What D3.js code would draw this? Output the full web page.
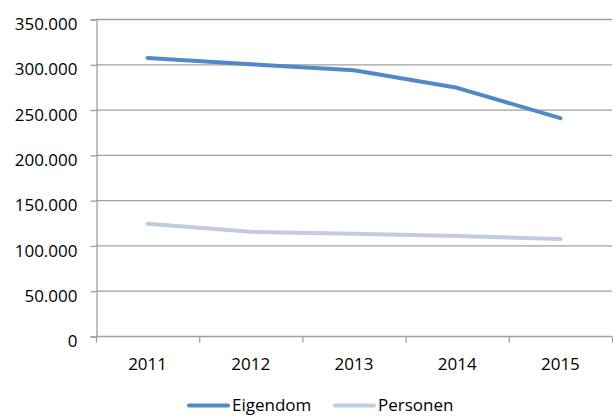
<!DOCTYPE html>
<html>
<head>
<meta charset="utf-8">
<script src="https://cdn.jsdelivr.net/npm/d3@7"></script>
<style>
  body { margin: 0; background: #fff; }
  text { font-family: "Open Sans", "Liberation Sans", sans-serif; font-size: 17px; fill: #000; }
</style>
</head>
<body>
<div class="chart"></div>
<script>
var years = ["2011", "2012", "2013", "2014", "2015"],
    eigendom = [307000, 300000, 293500, 274000, 240500],
    personen = [124000, 115000, 113000, 110500, 107000],
    seriesNames = ["Eigendom", "Personen"],
    seriesColors = ["#5189C8", "#C2CCE0"],
    yTicks = [0, 50000, 100000, 150000, 200000, 250000, 300000, 350000];

var margin = {left: 96, top: 19, right: 1, bottom: 80},
    outerWidth = 613,
    outerHeight = 416,
    width = outerWidth - margin.left - margin.right,
    height = outerHeight - margin.top - margin.bottom;

var fmt = d3.formatLocale({decimal: ",", thousands: ".", grouping: [3], currency: ["", ""]}).format(",d");

var xScale = d3.scaleBand().domain(years).range([0, width]),
    yScale = d3.scaleLinear().domain([0, 350000]).range([height, 0]);

var svg = d3.select(".chart").append("svg")
    .attr("width", outerWidth)
    .attr("height", outerHeight)
  .append("g")
    .attr("transform", "translate(" + margin.left + "," + margin.top + ")");

// gridlines
svg.append("g")
    .selectAll("line")
    .data(yTicks.slice(1))
    .enter().append("line")
    .attr("x1", 0).attr("x2", width)
    .attr("y1", function(d) { return yScale(d) + 0.5; })
    .attr("y2", function(d) { return yScale(d) + 0.5; })
    .attr("stroke", "#A0A0A0")
    .attr("stroke-width", 1.3);

// y axis
var yAxis = svg.append("g")
    .attr("transform", "translate(0.5,0.5)")
    .call(d3.axisLeft(yScale).tickValues(yTicks).tickFormat(fmt).tickSize(6).tickPadding(13));
yAxis.select(".domain").attr("stroke", "#A0A0A0").attr("stroke-width", 1.3);
yAxis.selectAll(".tick line").attr("stroke", "#A0A0A0").attr("stroke-width", 1.3);
yAxis.selectAll("text").style("font-size", "17px").attr("dy", "0.6em")
    .style("font-family", "'Open Sans', sans-serif");

// x axis
var xAxis = svg.append("g")
    .attr("transform", "translate(0," + (height + 0.5) + ")");
xAxis.append("line")
    .attr("x1", 0).attr("x2", width)
    .attr("stroke", "#A0A0A0").attr("stroke-width", 1.3);
xAxis.selectAll(".xtick")
    .data(years.concat(["end"]))
    .enter().append("line")
    .attr("x1", function(d, i) { return i * xScale.bandwidth() + 0.5; })
    .attr("x2", function(d, i) { return i * xScale.bandwidth() + 0.5; })
    .attr("y1", 0).attr("y2", 6)
    .attr("stroke", "#A0A0A0").attr("stroke-width", 1.3);
xAxis.selectAll(".xlabel")
    .data(years)
    .enter().append("text")
    .attr("x", function(d) { return xScale(d) + xScale.bandwidth() / 2; })
    .attr("y", 33)
    .attr("text-anchor", "middle")
    .text(function(d) { return d; });

// lines
var line = d3.line()
    .x(function(d, i) { return xScale(years[i]) + xScale.bandwidth() / 2; })
    .y(function(d) { return yScale(d); });

[eigendom, personen].forEach(function(vals, k) {
    svg.append("path")
        .datum(vals)
        .attr("fill", "none")
        .attr("stroke", seriesColors[k])
        .attr("stroke-width", 4)
        .attr("stroke-linecap", "round")
        .attr("stroke-linejoin", "round")
        .attr("d", line);
});

// legend (kept fully inside the frame)
var legend = d3.select("svg").append("g")
    .attr("transform", "translate(0,405.5)");
var legendX = [189, 335];
seriesNames.forEach(function(name, k) {
    legend.append("line")
        .attr("x1", legendX[k]).attr("x2", legendX[k] + 39)
        .attr("y1", 0).attr("y2", 0)
        .attr("stroke", seriesColors[k])
        .attr("stroke-width", 4)
        .attr("stroke-linecap", "round");
    legend.append("text")
        .attr("x", legendX[k] + 43)
        .attr("y", 5.5)
        .text(name);
});
</script>
</body>
</html>
